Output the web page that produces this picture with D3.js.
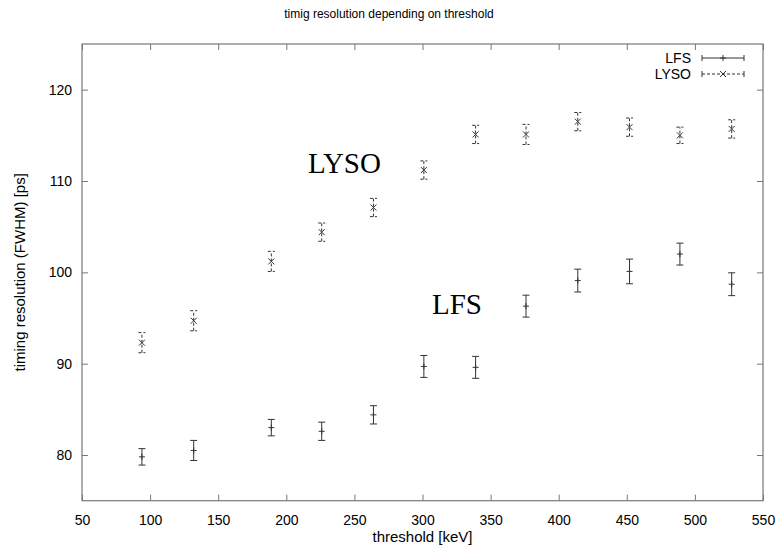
<!DOCTYPE html>
<html>
<head>
<meta charset="utf-8">
<script src="https://cdn.jsdelivr.net/npm/d3@7"></script>
<style>
  body { margin: 0; background: #fff; }
  svg text { font-family: "Liberation Sans", Arial, sans-serif; fill: #000; }
</style>
</head>
<body>
<svg id="chart" width="778" height="548"></svg>
<script>
// Threshold settings (keV)
const thresholds = [94, 132, 189, 226, 264, 301, 339, 376, 414, 452, 489, 527];
// LFS timing resolution (ps) and its uncertainty
const lfsValues = [79.8, 80.5, 83.0, 82.6, 84.4, 89.7, 89.6, 96.3, 99.1, 100.1, 102.0, 98.7];
const lfsErrors = [0.9, 1.1, 0.9, 1.0, 1.0, 1.2, 1.2, 1.2, 1.25, 1.35, 1.2, 1.25];
// LYSO timing resolution (ps) and its uncertainty
const lysoValues = [92.3, 94.7, 101.2, 104.4, 107.1, 111.2, 115.1, 115.1, 116.5, 115.9, 115.0, 115.7];
const lysoErrors = [1.1, 1.1, 1.1, 1.0, 1.0, 1.0, 1.0, 1.1, 1.0, 1.0, 0.9, 1.0];
// Axis ticks
const xTicks = [50, 100, 150, 200, 250, 300, 350, 400, 450, 500, 550];
const yTicks = [80, 90, 100, 110, 120];

const svg = d3.select("#chart");
const frame = { left: 82, right: 763, top: 44, bottom: 500.7 };

const x = d3.scaleLinear().domain([50, 550]).range([frame.left, frame.right]);
const y = d3.scaleLinear().domain([75, 125]).range([frame.bottom, frame.top]);

const axisColor = "#777";
const tickLen = 6;

// Axes with inward ticks, mirrored on top and right
function styleAxis(g) {
  g.select(".domain").remove();
  g.selectAll(".tick line").attr("stroke", axisColor);
  g.selectAll(".tick text").attr("fill", "#000");
}

svg.append("g")
  .attr("transform", `translate(0,${frame.bottom})`)
  .call(d3.axisBottom(x).tickValues(xTicks).tickSize(-tickLen).tickPadding(14))
  .call(styleAxis)
  .selectAll("text").style("font-size", "14px").style("font-family", "Liberation Sans, Arial, sans-serif");

svg.append("g")
  .attr("transform", `translate(0,${frame.top})`)
  .call(d3.axisTop(x).tickValues(xTicks).tickSize(-tickLen).tickFormat(""))
  .call(styleAxis);

svg.append("g")
  .attr("transform", `translate(${frame.left},0)`)
  .call(d3.axisLeft(y).tickValues(yTicks).tickSize(-tickLen).tickPadding(10))
  .call(styleAxis)
  .selectAll("text").style("font-size", "14px").style("font-family", "Liberation Sans, Arial, sans-serif");

svg.append("g")
  .attr("transform", `translate(${frame.right},0)`)
  .call(d3.axisRight(y).tickValues(yTicks).tickSize(-tickLen).tickFormat(""))
  .call(styleAxis);

// Plot border
svg.append("rect")
  .attr("x", frame.left).attr("y", frame.top)
  .attr("width", frame.right - frame.left).attr("height", frame.bottom - frame.top)
  .attr("fill", "none").attr("stroke", axisColor).attr("stroke-width", 1.2);

// Title and axis labels
svg.append("text")
  .attr("x", 389).attr("y", 18)
  .attr("text-anchor", "middle")
  .style("font-size", "12px")
  .text("timig resolution depending on threshold");

svg.append("text")
  .attr("x", (frame.left + frame.right) / 2).attr("y", 542)
  .attr("text-anchor", "middle")
  .style("font-size", "15px")
  .text("threshold [keV]");

svg.append("text")
  .attr("transform", `translate(25,${(frame.top + frame.bottom) / 2}) rotate(-90)`)
  .attr("text-anchor", "middle")
  .style("font-size", "15px")
  .text("timing resolution (FWHM) [ps]");

// Error bars with markers
const markColor = "#333";
const capHalf = 3.5;

function drawSeries(values, errors, marker, dashed) {
  const rows = thresholds.map((t, i) => ({ t, v: values[i], e: errors[i] }));
  const g = svg.append("g")
    .attr("stroke", markColor).attr("stroke-width", 1).attr("fill", "none");
  const dash = dashed ? "3,2" : null;
  const pts = g.selectAll("g").data(rows).join("g");
  pts.append("line")
    .attr("x1", d => x(d.t)).attr("x2", d => x(d.t))
    .attr("y1", d => y(d.v - d.e)).attr("y2", d => y(d.v + d.e))
    .attr("stroke-dasharray", dash);
  [1, -1].forEach(s => {
    pts.append("line")
      .attr("x1", d => x(d.t) - capHalf).attr("x2", d => x(d.t) + capHalf)
      .attr("y1", d => y(d.v + s * d.e)).attr("y2", d => y(d.v + s * d.e))
      .attr("stroke-dasharray", dash);
  });
  pts.append("path")
    .attr("d", d => marker(x(d.t), y(d.v)));
}

const plusMarker = (cx, cy) => `M${cx - 3},${cy}H${cx + 3}M${cx},${cy - 3}V${cy + 3}`;
const crossMarker = (cx, cy) => `M${cx - 3},${cy - 3}L${cx + 3},${cy + 3}M${cx - 3},${cy + 3}L${cx + 3},${cy - 3}`;

drawSeries(lfsValues, lfsErrors, plusMarker, false);
drawSeries(lysoValues, lysoErrors, crossMarker, true);

// Series annotations
svg.append("text")
  .attr("x", x(216)).attr("y", y(112))
  .attr("dominant-baseline", "central")
  .style("font-family", "Liberation Serif, Times New Roman, serif")
  .style("font-size", "29px")
  .text("LYSO");

svg.append("text")
  .attr("x", x(307)).attr("y", y(96.5))
  .attr("dominant-baseline", "central")
  .style("font-family", "Liberation Serif, Times New Roman, serif")
  .style("font-size", "29px")
  .text("LFS");

// Legend
const legend = [
  { name: "LFS", marker: plusMarker, dashed: false, cy: 58 },
  { name: "LYSO", marker: crossMarker, dashed: true, cy: 74 }
];
const lx0 = 702, lx1 = 744;
legend.forEach(item => {
  svg.append("text")
    .attr("x", 691).attr("y", item.cy)
    .attr("text-anchor", "end")
    .attr("dominant-baseline", "central")
    .style("font-size", "14px")
    .text(item.name);
  const g = svg.append("g").attr("stroke", markColor).attr("fill", "none");
  const dash = item.dashed ? "3,2" : null;
  g.append("line").attr("x1", lx0).attr("x2", lx1).attr("y1", item.cy).attr("y2", item.cy).attr("stroke-dasharray", dash);
  g.append("line").attr("x1", lx0).attr("x2", lx0).attr("y1", item.cy - 3).attr("y2", item.cy + 3);
  g.append("line").attr("x1", lx1).attr("x2", lx1).attr("y1", item.cy - 3).attr("y2", item.cy + 3);
  g.append("path").attr("d", item.marker((lx0 + lx1) / 2, item.cy));
});
</script>
</body>
</html>
